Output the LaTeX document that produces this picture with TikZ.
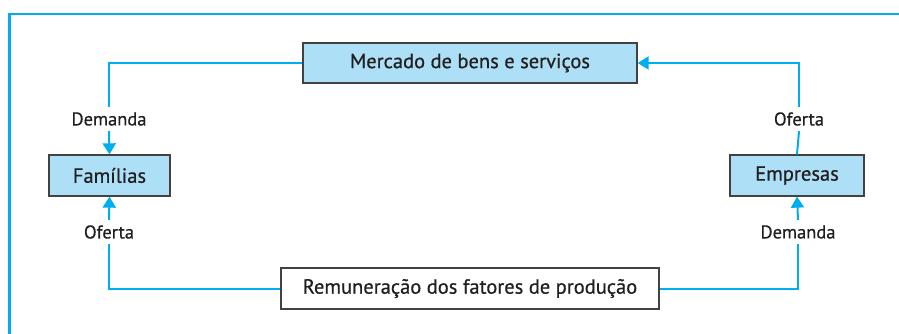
\documentclass[tikz,border=0pt]{standalone}
\usepackage{fontspec}
\setmainfont[FakeBold=0.6]{PT Sans}
\usetikzlibrary{arrows.meta}
\definecolor{cy}{HTML}{00AEEF}
\definecolor{boxfill}{HTML}{ADDFF7}
\definecolor{ink}{HTML}{231F20}
\begin{document}
\begin{tikzpicture}[x=1pt,y=-1pt,
  box/.style={draw=ink!85, line width=1.3pt, fill=boxfill, text=ink, font=\fontsize{20.5}{24}\selectfont, inner sep=0pt},
  lab/.style={text=ink, font=\fontsize{18.5}{22}\selectfont, inner sep=0pt, minimum height=24pt},
  conn/.style={draw=cy, line width=2pt},
  arr/.style={conn, -{Triangle[length=11pt,width=13pt]}}]
\useasboundingbox (0,0) rectangle (899,334);
\draw[cy, line width=2.6pt] (899,14) -- (9.5,14) -- (9.5,334);
\node[box, minimum width=334pt, minimum height=40pt] (merc) at (470,63) {Mercado de bens e serviços};
\node[box, minimum width=121pt, minimum height=41pt] (fam) at (109.5,175.5) {Famílias};
\node[box, minimum width=134pt, minimum height=41pt] (emp) at (797,175.5) {Empresas};
\node[box, fill=white, minimum width=378pt, minimum height=41pt] (rem) at (470,288.5) {Remuneração dos fatores de produção};
\node[lab] (dem1) at (109,119) {Demanda};
\node[lab] (of1) at (109,232) {Oferta};
\node[lab] (of2) at (799,119) {Oferta};
\node[lab] (dem2) at (798,232) {Demanda};
\draw[conn] (merc.west) -| (dem1.north);
\draw[arr] (dem1.south) -- (fam.north);
\draw[conn] (rem.west) -| (of1.south);
\draw[arr] (of1.north) -- (fam.south);
\draw[conn] (emp.north) -- (of2.south);
\draw[arr] (of2.north) |- (merc.east);
\draw[conn] (rem.east) -| (dem2.south);
\draw[arr] (dem2.north) -- (emp.south);
\end{tikzpicture}
\end{document}
